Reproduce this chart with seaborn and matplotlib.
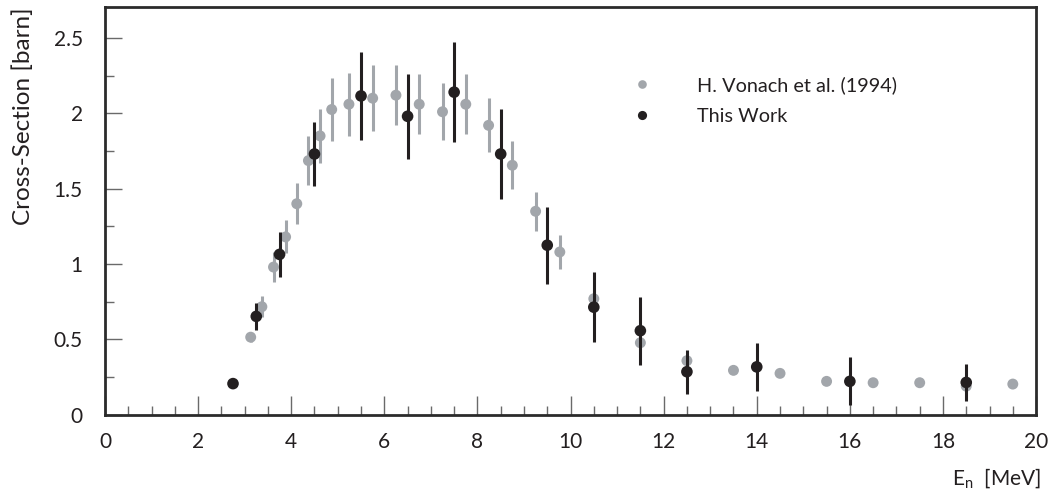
import matplotlib
matplotlib.use("Agg")
import matplotlib.pyplot as plt
from matplotlib.lines import Line2D
from matplotlib.ticker import MultipleLocator, FuncFormatter
import seaborn as sns
import pandas as pd

# Reference measurement (H. Vonach et al., 1994)
vonach_energy = [3.13, 3.37, 3.62, 3.88, 4.12, 4.37, 4.62, 4.87, 5.24, 5.75,
                 6.25, 6.75, 7.25, 7.75, 8.24, 8.75, 9.25, 9.77, 10.5, 11.5,
                 12.5, 13.5, 14.5, 15.5, 16.5, 17.5, 18.5, 19.5]
vonach_xs = [0.515, 0.717, 0.98, 1.18, 1.40, 1.686, 1.85, 2.025, 2.06, 2.10,
             2.12, 2.06, 2.01, 2.06, 1.92, 1.655, 1.35, 1.08, 0.77, 0.478,
             0.359, 0.295, 0.275, 0.222, 0.213, 0.213, 0.19, 0.204]
vonach_err = [0.03, 0.07, 0.097, 0.11, 0.135, 0.165, 0.18, 0.21, 0.21, 0.22,
              0.20, 0.20, 0.19, 0.20, 0.18, 0.16, 0.13, 0.11, 0.06, 0.04,
              0.03, 0.02, 0.02, 0.02, 0.02, 0.02, 0.02, 0.02]

# Present measurement
work_energy = [2.75, 3.25, 3.75, 4.5, 5.5, 6.5, 7.5, 8.5, 9.5, 10.5,
               11.5, 12.5, 14.0, 16.0, 18.5]
work_xs = [0.207, 0.653, 1.064, 1.73, 2.115, 1.98, 2.14, 1.73, 1.125, 0.714,
           0.558, 0.286, 0.318, 0.222, 0.215]
work_err = [0.01, 0.09, 0.15, 0.215, 0.29, 0.28, 0.33, 0.30, 0.255, 0.23,
            0.225, 0.145, 0.16, 0.16, 0.12]

labels = ["H. Vonach et al. (1994)", "This Work"]
GRAY = "#a2a6ab"
BLACK = "#231f20"
TEXT = "#231f20"

sns.set_style("white")
plt.rcParams["font.family"] = ["Lato", "DejaVu Sans"]
plt.rcParams["mathtext.fontset"] = "custom"
plt.rcParams["mathtext.rm"] = "Lato"

vonach = pd.DataFrame({"E": vonach_energy, "xs": vonach_xs, "err": vonach_err})
work = pd.DataFrame({"E": work_energy, "xs": work_xs, "err": work_err})

fig = plt.figure(figsize=(10.54, 4.98), dpi=100)
ax = fig.add_axes([0.0996, 0.167, 0.8834, 0.819])

ax.errorbar(vonach["E"], vonach["xs"], yerr=vonach["err"], fmt="none",
            ecolor=GRAY, elinewidth=2.2, capsize=0, zorder=2)
sns.scatterplot(data=vonach, x="E", y="xs", ax=ax, color=GRAY, s=62,
                edgecolor="none", zorder=3, legend=False)
ax.errorbar(work["E"], work["xs"], yerr=work["err"], fmt="none",
            ecolor=BLACK, elinewidth=2.2, capsize=0, zorder=4)
sns.scatterplot(data=work, x="E", y="xs", ax=ax, color=BLACK, s=70,
                edgecolor="none", zorder=5, legend=False)

ax.set_xlim(0, 20)
ax.set_ylim(0, 2.705)

ax.xaxis.set_major_locator(MultipleLocator(2))
ax.xaxis.set_minor_locator(MultipleLocator(0.5))
ax.yaxis.set_major_locator(MultipleLocator(0.5))
ax.yaxis.set_minor_locator(MultipleLocator(0.25))
ax.yaxis.set_major_formatter(FuncFormatter(lambda v, p: f"{v:g}"))
ax.tick_params(axis="both", which="both", direction="in", colors="#6a6a6a",
               labelcolor=TEXT, labelsize=15, width=1.0,
               bottom=True, left=True, top=False, right=False)
ax.tick_params(axis="x", which="major", length=13.5, pad=12)
ax.tick_params(axis="x", which="minor", length=6.7)
ax.tick_params(axis="y", which="major", length=12, pad=16)
ax.tick_params(axis="y", which="minor", length=6.3)

for sp in ax.spines.values():
    sp.set_visible(True)
    sp.set_color("#2b2b2b")
    sp.set_linewidth(2.0)

ax.set_xlabel("")
ax.set_ylabel("Cross-Section [barn]", fontsize=17.5, color=TEXT,
              loc="top", labelpad=14)
fig.text(0.988, 0.025, r"E$_\mathregular{n}$  [MeV]", ha="right",
         va="baseline", fontsize=15, color=TEXT)

handles = [Line2D([], [], linestyle="none", marker="o", markersize=6.2,
                  markerfacecolor=GRAY, markeredgecolor="none"),
           Line2D([], [], linestyle="none", marker="o", markersize=6.6,
                  markerfacecolor=BLACK, markeredgecolor="none")]
ax.legend(handles, labels, loc="upper left", bbox_to_anchor=(0.566, 0.83),
          frameon=False, fontsize=14.3, handlelength=1.0, handletextpad=2.26,
          labelspacing=0.68, borderpad=0, borderaxespad=0, labelcolor=TEXT)

fig.savefig("out.png", dpi=100)
